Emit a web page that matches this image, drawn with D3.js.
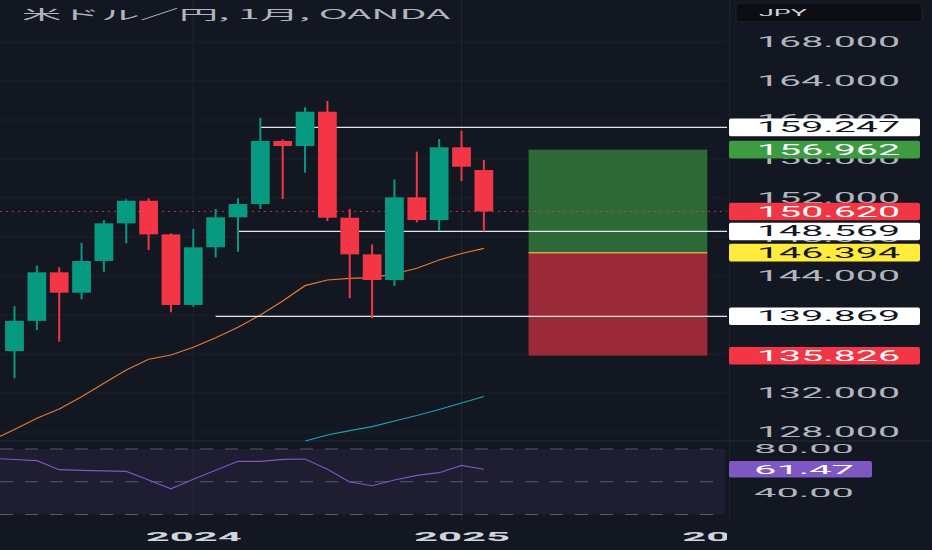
<!DOCTYPE html>
<html>
<head>
<meta charset="utf-8">
<script src="https://cdn.jsdelivr.net/npm/d3@7"></script>
<style>
  body { margin: 0; background: #131722; }
  svg { display: block; }
</style>
</head>
<body>
<script>

// USD/JPY monthly candles (OANDA)

let months = ["2023-05", "2023-06", "2023-07", "2023-08", "2023-09", "2023-10",
              "2023-11", "2023-12", "2024-01", "2024-02", "2024-03", "2024-04",
              "2024-05", "2024-06", "2024-07", "2024-08", "2024-09", "2024-10",
              "2024-11", "2024-12", "2025-01", "2025-02"];
let opens  = [136.30, 139.40, 144.38, 142.29, 145.54, 149.40, 151.72, 148.27, 141.03, 146.94, 150.02,
              151.38, 157.85, 157.33, 160.85, 149.98, 146.22, 143.59, 152.07, 149.74, 157.20, 154.87];
let highs  = [140.90, 145.06, 144.90, 147.40, 149.74, 151.87, 151.97, 148.37, 148.82, 150.87, 151.97,
              160.23, 158.02, 161.30, 161.95, 150.87, 147.25, 153.90, 156.75, 158.05, 158.90, 155.90];
let lows   = [133.50, 138.46, 137.26, 141.60, 144.44, 147.35, 146.67, 140.28, 140.85, 145.90, 146.49,
              150.87, 151.90, 154.60, 149.64, 141.71, 139.66, 142.97, 149.50, 148.65, 153.74, 148.57];
let closes = [139.40, 144.38, 142.29, 145.54, 149.40, 151.72, 148.27, 141.03, 146.94, 150.02, 151.38,
              157.85, 157.33, 160.85, 149.98, 146.22, 143.59, 152.07, 149.74, 157.20, 155.21, 150.62];

// moving averages (orange from 2023-04, teal from 2024-06)
let maOrangeStart = "2023-04";
let maOrange = [127.18, 128.26, 129.41, 130.36, 131.62, 133.00, 134.36, 135.46, 135.90, 136.69, 137.67, 138.74,
                140.00, 141.44, 143.01, 143.59, 143.76, 143.83, 144.21, 144.79, 145.64, 146.31, 146.84];
let maTealStart = "2024-06";
let maTeal = [127.08, 127.69, 128.15, 128.56, 129.13, 129.69, 130.31, 130.97, 131.64];

// RSI pane
let rsiStart = "2023-04";
let rsiValues = [71.48, 70.38, 69.28, 61.04, 60.49, 60.03, 59.57, 51.60, 43.63, 52.25, 60.58, 68.73,
                 68.73, 70.57, 70.84, 61.40, 49.77, 46.38, 51.60, 55.91, 58.29, 65.07, 61.47];
let rsiBands = [80, 50, 20];
let rsiTicks = [40, 80];

// drawn horizontal rays: price and month they start from
let rayPrices = [159.247, 148.569, 139.869];
let rayStarts = ["2024-04", "2024-03", "2024-02"];

// long position tool
let posTarget = 156.962, posEntry = 146.394, posStop = 135.826;
let posFrom = "2025-04", posTo = "2025-12";

let lastPrice = 150.620;
let rsiLast = 61.47;

let priceTicks = [128, 132, 136, 140, 144, 148, 152, 156, 160, 164, 168];
let yearTicks = ["2024", "2025", "2026"];

let title = "米ドル／円, 1月, OANDA";

// ---------------------------------------------------------------

let width = 932, height = 550;
let plotRight = 727;     // where the chart stops and the price axis starts
let paneBottom = 441;    // price pane / RSI pane separator

let bg = "#131722";
let up = "#089981", down = "#f23645";

let monthIndex = (s) => {
  let [yy, mm] = s.split("-").map(Number);
  return (yy - 2023) * 12 + (mm - 5);
};

let svg = d3.select("body")
            .append("svg")
              .attr("width", width)
              .attr("height", height);

svg.append("rect")
   .attr("width", width).attr("height", height)
   .attr("fill", bg);

let xScale = d3.scaleLinear()
               .domain([0, 32])          // month index, 0 = May 2023
               .range([14.5, 729.7]);

let yScale = d3.scaleLinear()
               .domain([128, 168])
               .range([432, 42]);

let rsiScale = d3.scaleLinear()
                 .domain([40, 80])
                 .range([492.7, 449]);

let step = xScale(1) - xScale(0);

let defs = svg.append("defs");
defs.append("clipPath").attr("id", "pricePane")
    .append("rect").attr("x", 0).attr("y", 0)
    .attr("width", plotRight).attr("height", paneBottom);
defs.append("clipPath").attr("id", "plotArea")
    .append("rect").attr("x", 0).attr("y", 0)
    .attr("width", plotRight).attr("height", height);

// grid
svg.append("g")
   .selectAll("line")
   .data(priceTicks)
   .enter()
   .append("line")
     .attr("x1", 0).attr("x2", plotRight)
     .attr("y1", (d) => yScale(d)).attr("y2", (d) => yScale(d))
     .attr("stroke", "#1c202b").attr("stroke-width", 1);

svg.append("g")
   .selectAll("line")
   .data(yearTicks)
   .enter()
   .append("line")
     .attr("x1", (d) => xScale(monthIndex(d + "-01")))
     .attr("x2", (d) => xScale(monthIndex(d + "-01")))
     .attr("y1", 0).attr("y2", 521)
     .attr("stroke", "#22262f").attr("stroke-width", 1);

// pane separator
svg.append("line")
   .attr("x1", 0).attr("x2", width)
   .attr("y1", paneBottom).attr("y2", paneBottom)
   .attr("stroke", "#262a35");

// RSI pane background band + dashed levels
svg.append("rect")
   .attr("x", 0).attr("width", plotRight - 2)
   .attr("y", rsiScale(rsiBands[0]))
   .attr("height", rsiScale(rsiBands[2]) - rsiScale(rsiBands[0]))
   .attr("fill", "rgba(126,87,194,0.10)");

svg.append("g")
   .selectAll("line")
   .data(rsiBands)
   .enter()
   .append("line")
     .attr("x1", 0).attr("x2", plotRight - 2)
     .attr("y1", (d) => rsiScale(d)).attr("y2", (d) => rsiScale(d))
     .attr("stroke", "#595c68")
     .attr("stroke-width", 1)
     .attr("stroke-dasharray", "13,12");

let rsiLine = d3.line()
                .x((d, i) => xScale(monthIndex(rsiStart) + i))
                .y((d) => rsiScale(d));

svg.append("path")
   .attr("clip-path", "url(#plotArea)")
   .attr("d", rsiLine(rsiValues))
   .attr("fill", "none")
   .attr("stroke", "#7e57c2")
   .attr("stroke-width", 1.2);

// price pane content
let pane = svg.append("g").attr("clip-path", "url(#pricePane)");

// position tool boxes
let px1 = xScale(monthIndex(posFrom)), px2 = xScale(monthIndex(posTo));
pane.append("rect")
    .attr("x", px1).attr("width", px2 - px1)
    .attr("y", yScale(posTarget))
    .attr("height", yScale(posEntry) - yScale(posTarget))
    .attr("fill", "#2d6a37");
pane.append("rect")
    .attr("x", px1).attr("width", px2 - px1)
    .attr("y", yScale(posEntry))
    .attr("height", yScale(posStop) - yScale(posEntry))
    .attr("fill", "#9b2a38");
pane.append("line")
    .attr("x1", px1).attr("x2", px2)
    .attr("y1", yScale(posEntry)).attr("y2", yScale(posEntry))
    .attr("stroke", "#d1a63e").attr("stroke-width", 1.5);

// moving averages
let maLine = (start) => d3.line()
                          .x((d, i) => xScale(monthIndex(start) + i))
                          .y((d) => yScale(d));

pane.append("path")
    .attr("d", maLine(maOrangeStart)(maOrange))
    .attr("fill", "none")
    .attr("stroke", "#e8792b")
    .attr("stroke-width", 1.2);

pane.append("path")
    .attr("d", maLine(maTealStart)(maTeal))
    .attr("fill", "none")
    .attr("stroke", "#1fa2ae")
    .attr("stroke-width", 1.2);

// last price dotted line
pane.append("line")
    .attr("x1", 0).attr("x2", plotRight)
    .attr("y1", yScale(lastPrice)).attr("y2", yScale(lastPrice))
    .attr("stroke", "rgba(242,54,69,0.75)")
    .attr("stroke-width", 1)
    .attr("stroke-dasharray", "2,4");

// horizontal rays
pane.append("g")
    .selectAll("line")
    .data(rayPrices)
    .enter()
    .append("line")
      .attr("x1", (d, i) => xScale(monthIndex(rayStarts[i])))
      .attr("x2", plotRight)
      .attr("y1", (d) => yScale(d)).attr("y2", (d) => yScale(d))
      .attr("stroke", "#e6e6e6")
      .attr("stroke-width", 1.2);

// candles
let candles = pane.append("g")
                  .selectAll("g")
                  .data(months)
                  .enter()
                  .append("g");

candles.append("line")  // wick
       .attr("x1", (d) => xScale(monthIndex(d)))
       .attr("x2", (d) => xScale(monthIndex(d)))
       .attr("y1", (d, i) => yScale(highs[i]))
       .attr("y2", (d, i) => yScale(lows[i]))
       .attr("stroke", (d, i) => closes[i] >= opens[i] ? up : down)
       .attr("stroke-width", 2);

candles.append("rect")  // body
       .attr("x", (d) => xScale(monthIndex(d)) - step * 0.42)
       .attr("width", step * 0.84)
       .attr("y", (d, i) => yScale(Math.max(opens[i], closes[i])))
       .attr("height", (d, i) => Math.max(1.5, Math.abs(yScale(opens[i]) - yScale(closes[i]))))
       .attr("fill", (d, i) => closes[i] >= opens[i] ? up : down);

// time axis
let xAxis = svg.append("g")
               .attr("clip-path", "url(#plotArea)")
               .append("g")
               .attr("transform", "translate(0,532)")
               .call(d3.axisBottom(xScale)
                       .tickValues(yearTicks.map((y) => monthIndex(y + "-01")))
                       .tickFormat((d, i) => yearTicks[i])
                       .tickSize(0)
                       .tickPadding(0));
xAxis.select(".domain").remove();
xAxis.selectAll("text")
     .attr("fill", "#d1d4dc")
     .attr("font-family", "Roboto, sans-serif")
     .attr("font-size", 13)
     .attr("font-weight", "bold")
     .attr("textLength", 96)
     .attr("lengthAdjust", "spacingAndGlyphs");

// price axis
let yAxis = svg.append("g")
               .attr("transform", "translate(757,0)")
               .call(d3.axisRight(yScale)
                       .tickValues(priceTicks)
                       .tickFormat(d3.format(".3f"))
                       .tickSize(0)
                       .tickPadding(0));
yAxis.select(".domain").remove();
yAxis.selectAll("text")
     .attr("fill", "#b2b5be")
     .attr("font-family", "Roboto, sans-serif")
     .attr("font-size", 14)
     .attr("textLength", 143)
     .attr("lengthAdjust", "spacingAndGlyphs");

// RSI axis
let rAxis = svg.append("g")
               .attr("transform", "translate(754,0)")
               .call(d3.axisRight(rsiScale)
                       .tickValues(rsiTicks)
                       .tickFormat(d3.format(".2f"))
                       .tickSize(0)
                       .tickPadding(0));
rAxis.select(".domain").remove();
rAxis.selectAll("text")
     .attr("fill", "#b2b5be")
     .attr("font-family", "Roboto, sans-serif")
     .attr("font-size", 12)
     .attr("textLength", 100)
     .attr("lengthAdjust", "spacingAndGlyphs");

// price labels on the axis
let markPrices = [rayPrices[0], posTarget, lastPrice, rayPrices[1], posEntry, rayPrices[2], posStop];
let markFill = ["#ffffff", "#3d9b41", "#f23645", "#ffffff", "#ffeb3b", "#ffffff", "#f23645"];
let markText = ["#131722", "#ffffff", "#ffffff", "#131722", "#131722", "#131722", "#ffffff"];

let marks = svg.append("g")
               .selectAll("g")
               .data(markPrices)
               .enter()
               .append("g")
               .attr("transform", (d) => `translate(729,${yScale(d)})`);

marks.append("rect")
     .attr("x", 0).attr("y", -8.8)
     .attr("width", 191).attr("height", 17.6)
     .attr("rx", 2)
     .attr("fill", (d, i) => markFill[i]);

marks.append("text")
     .attr("x", 28).attr("dy", "0.36em")
     .attr("fill", (d, i) => markText[i])
     .attr("font-family", "Roboto, sans-serif")
     .attr("font-size", 14)
     .attr("textLength", 143)
     .attr("lengthAdjust", "spacingAndGlyphs")
     .text((d) => d3.format(".3f")(d));

// RSI value label
let rsiMark = svg.append("g")
                 .attr("transform", `translate(729,${rsiScale(rsiLast)})`);
rsiMark.append("rect")
       .attr("x", 0).attr("y", -8.2)
       .attr("width", 143).attr("height", 16.4)
       .attr("rx", 2)
       .attr("fill", "#7e57c2");
rsiMark.append("text")
       .attr("x", 25).attr("dy", "0.36em")
       .attr("fill", "#ffffff")
       .attr("font-family", "Roboto, sans-serif")
       .attr("font-size", 12)
       .attr("textLength", 100)
       .attr("lengthAdjust", "spacingAndGlyphs")
       .text(d3.format(".2f")(rsiLast));

// currency box top right
svg.append("rect")
   .attr("x", 736).attr("y", 3)
   .attr("width", 186).attr("height", 19)
   .attr("rx", 3)
   .attr("fill", "#0c0e14")
   .attr("stroke", "#1f232d");
svg.append("text")
   .attr("x", 759).attr("y", 16)
   .attr("fill", "#d1d4dc")
   .attr("font-family", "Roboto, sans-serif")
   .attr("font-size", 9)
   .attr("textLength", 48)
   .attr("lengthAdjust", "spacingAndGlyphs")
   .text("JPY");

// title
svg.append("text")
   .attr("x", 22).attr("y", 19)
   .attr("fill", "#b2b5be")
   .attr("font-family", "'Noto Sans CJK JP', sans-serif")
   .attr("font-size", 13)
   .attr("textLength", 428)
   .attr("lengthAdjust", "spacingAndGlyphs")
   .text(title);

</script>
</body>
</html>
